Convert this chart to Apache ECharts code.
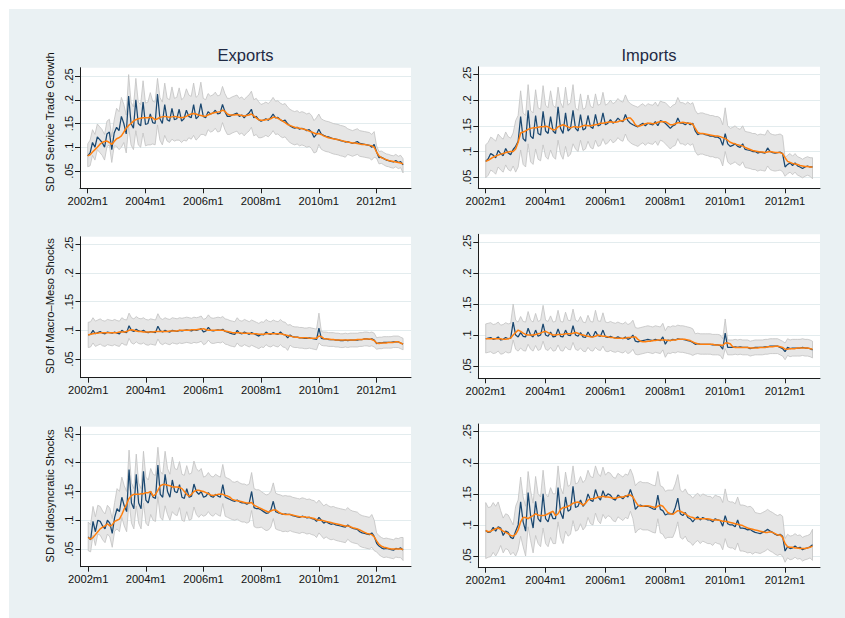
<!DOCTYPE html>
<html>
<head>
<meta charset="utf-8">
<title>SD of service trade growth, macro-meso and idiosyncratic shocks</title>
<script src="https://cdn.jsdelivr.net/npm/echarts@6.0.0/dist/echarts.min.js"></script>
<style>
  html, body { margin: 0; padding: 0; background: #ffffff; }
  #chart { width: 845px; height: 618px; }
</style>
</head>
<body>
<div id="chart"></div>
<script>
// Monthly observations 2002m1 .. 2012m12; x value = months since 2002m1.
const xTicks = [0, 24, 48, 72, 96, 120];
const xTickLabels = ['2002m1', '2004m1', '2006m1', '2008m1', '2010m1', '2012m1'];
const yTicks = [0.05, 0.10, 0.15, 0.20, 0.25];
const yTickLabels = ['.05', '.1', '.15', '.2', '.25'];
const columnTitles = ['Exports', 'Imports'];
const rowTitles = ['SD of Service Trade Growth', 'SD of Macro\u2013Meso Shocks', 'SD of Idiosyncratic Shocks'];

// ---- Exports: SD of service trade growth ----
const exportsTrade = [
  .082,.088,.110,.100,.122,.116,.110,.100,.128,.132,.095,.130,
  .142,.135,.165,.150,.128,.208,.150,.140,.200,.150,.145,.195,
  .148,.150,.170,.152,.150,.212,.160,.150,.190,.158,.155,.182,
  .158,.160,.180,.155,.160,.178,.165,.162,.190,.160,.165,.192,
  .165,.162,.175,.170,.172,.178,.170,.172,.190,.175,.165,.165,
  .168,.170,.172,.165,.168,.162,.168,.172,.180,.162,.165,.158,
  .155,.157,.160,.157,.162,.170,.162,.163,.158,.155,.157,.150,
  .145,.142,.140,.142,.138,.140,.138,.135,.137,.132,.121,.127,
  .138,.128,.125,.123,.122,.120,.118,.117,.116,.114,.113,.111,
  .112,.110,.108,.110,.112,.108,.107,.106,.105,.104,.100,.106,
  .090,.078,.079,.076,.073,.072,.070,.069,.072,.068,.070,.063];
const exportsTradeTrend = [
  .082,.084,.090,.095,.100,.106,.110,.112,.113,.110,.106,.112,
  .118,.120,.124,.132,.140,.146,.150,.155,.158,.160,.161,.162,
  .162,.162,.163,.162,.158,.160,.163,.164,.165,.164,.163,.164,
  .165,.164,.163,.162,.163,.165,.168,.170,.171,.170,.168,.167,
  .166,.165,.168,.170,.172,.173,.174,.175,.178,.176,.170,.168,
  .168,.168,.169,.168,.167,.166,.167,.168,.170,.166,.162,.158,
  .157,.157,.158,.159,.160,.163,.163,.161,.158,.155,.152,.148,
  .146,.144,.142,.141,.140,.139,.138,.136,.134,.132,.130,.128,
  .129,.127,.124,.122,.120,.119,.118,.117,.116,.115,.113,.112,
  .111,.110,.109,.109,.108,.107,.106,.106,.105,.104,.103,.100,
  .090,.082,.078,.076,.074,.072,.071,.070,.069,.068,.067,.065];
const exportsTradeHi = [
  .107,.115,.137,.127,.149,.143,.137,.127,.155,.159,.122,.157,
  .182,.175,.205,.190,.168,.253,.195,.185,.245,.195,.190,.240,
  .193,.195,.215,.197,.195,.245,.205,.195,.235,.203,.200,.227,
  .203,.205,.225,.200,.205,.223,.210,.207,.235,.205,.210,.237,
  .203,.200,.213,.208,.210,.216,.208,.210,.228,.213,.203,.203,
  .206,.208,.210,.203,.206,.200,.206,.210,.218,.200,.203,.196,
  .190,.192,.195,.192,.197,.205,.197,.198,.193,.190,.192,.185,
  .180,.177,.175,.177,.173,.175,.173,.170,.172,.167,.156,.162,
  .170,.160,.157,.155,.154,.152,.150,.149,.148,.146,.145,.143,
  .139,.137,.135,.137,.139,.135,.134,.133,.132,.131,.127,.133,
  .103,.091,.092,.089,.086,.085,.083,.082,.085,.081,.083,.076];
const exportsTradeLo = [
  .059,.061,.083,.073,.095,.089,.083,.073,.101,.105,.068,.103,
  .102,.095,.100,.110,.088,.143,.105,.095,.135,.105,.100,.130,
  .103,.105,.105,.107,.105,.147,.115,.105,.125,.113,.110,.117,
  .113,.115,.115,.110,.115,.113,.120,.117,.125,.115,.120,.127,
  .127,.124,.137,.132,.134,.140,.132,.134,.152,.137,.127,.127,
  .130,.132,.134,.127,.130,.124,.130,.134,.142,.124,.127,.120,
  .120,.122,.125,.122,.127,.135,.127,.128,.123,.120,.122,.115,
  .110,.107,.105,.107,.103,.105,.103,.100,.102,.097,.088,.090,
  .106,.096,.093,.091,.090,.088,.086,.085,.084,.082,.081,.079,
  .085,.083,.081,.083,.085,.081,.080,.079,.078,.077,.073,.079,
  .077,.065,.066,.063,.060,.059,.057,.056,.059,.055,.057,.046];

// ---- Imports: SD of service trade growth ----
const importsTrade = [
  .081,.086,.096,.093,.088,.102,.096,.092,.106,.097,.094,.104,
  .110,.120,.168,.125,.120,.180,.130,.125,.170,.135,.132,.178,
  .140,.135,.168,.140,.135,.187,.145,.135,.175,.140,.145,.180,
  .145,.140,.172,.142,.145,.170,.148,.145,.172,.150,.152,.175,
  .152,.155,.162,.155,.158,.165,.160,.158,.172,.160,.155,.152,
  .150,.148,.152,.155,.150,.155,.153,.152,.158,.150,.160,.158,
  .155,.150,.145,.150,.152,.165,.155,.155,.152,.156,.152,.155,
  .140,.133,.135,.135,.133,.132,.130,.130,.128,.128,.125,.112,
  .135,.115,.110,.112,.115,.110,.108,.115,.104,.103,.102,.100,
  .100,.097,.099,.098,.097,.107,.100,.098,.097,.098,.099,.096,
  .070,.075,.078,.073,.078,.072,.070,.067,.070,.072,.070,.070];
const importsTradeTrend = [
  .081,.083,.086,.089,.091,.093,.095,.096,.098,.099,.100,.100,
  .105,.118,.136,.138,.140,.143,.145,.146,.146,.147,.148,.148,
  .149,.148,.145,.142,.143,.148,.150,.152,.150,.148,.146,.148,
  .148,.147,.148,.150,.151,.150,.150,.151,.152,.153,.155,.155,
  .156,.157,.158,.157,.157,.158,.160,.160,.163,.165,.165,.160,
  .152,.149,.150,.152,.154,.155,.155,.154,.155,.157,.158,.158,
  .158,.155,.152,.152,.154,.156,.156,.157,.156,.155,.155,.153,
  .145,.137,.135,.135,.134,.133,.132,.131,.130,.130,.129,.127,
  .125,.122,.118,.116,.115,.113,.112,.111,.108,.106,.104,.102,
  .101,.100,.099,.099,.098,.099,.100,.099,.098,.098,.098,.096,
  .088,.081,.079,.077,.076,.075,.073,.072,.071,.071,.070,.070];
const importsTradeHi = [
  .113,.118,.128,.125,.120,.134,.128,.124,.138,.129,.126,.136,
  .160,.170,.218,.175,.170,.230,.180,.175,.220,.185,.182,.228,
  .190,.185,.218,.190,.185,.225,.195,.185,.225,.190,.195,.230,
  .185,.180,.212,.182,.185,.210,.188,.185,.212,.190,.192,.215,
  .190,.193,.200,.193,.196,.203,.198,.196,.210,.198,.193,.190,
  .188,.186,.190,.193,.188,.193,.191,.190,.196,.188,.198,.196,
  .195,.190,.185,.190,.192,.205,.195,.195,.192,.196,.192,.195,
  .180,.173,.175,.175,.173,.172,.170,.170,.168,.168,.165,.152,
  .185,.150,.145,.147,.150,.145,.143,.150,.139,.138,.137,.135,
  .135,.132,.134,.133,.132,.142,.135,.133,.132,.133,.134,.131,
  .088,.093,.096,.091,.096,.090,.088,.085,.088,.090,.088,.088];
const importsTradeLo = [
  .049,.054,.064,.061,.056,.070,.064,.060,.074,.065,.062,.072,
  .060,.070,.103,.075,.070,.115,.080,.075,.105,.085,.082,.113,
  .090,.085,.103,.090,.085,.122,.095,.085,.110,.090,.095,.115,
  .105,.100,.122,.102,.105,.120,.108,.105,.122,.110,.112,.125,
  .114,.117,.124,.117,.120,.127,.122,.120,.134,.122,.117,.114,
  .112,.110,.114,.117,.112,.117,.115,.114,.120,.112,.122,.120,
  .115,.110,.105,.110,.112,.125,.115,.115,.112,.116,.112,.115,
  .100,.093,.095,.095,.093,.092,.090,.090,.088,.088,.085,.072,
  .100,.080,.075,.077,.080,.075,.073,.080,.069,.068,.067,.065,
  .065,.062,.064,.063,.062,.072,.065,.063,.062,.063,.064,.061,
  .052,.057,.060,.055,.060,.054,.052,.049,.052,.054,.052,.047];

// ---- Exports: SD of macro-meso shocks ----
const exportsMacro = [
  .092,.093,.100,.094,.096,.098,.095,.094,.097,.096,.095,.097,
  .095,.094,.100,.097,.096,.108,.100,.098,.102,.099,.098,.100,
  .097,.096,.098,.097,.096,.107,.099,.097,.100,.098,.097,.100,
  .099,.098,.100,.099,.100,.101,.100,.099,.101,.100,.101,.103,
  .097,.099,.105,.100,.099,.100,.101,.100,.102,.098,.097,.095,
  .094,.093,.100,.095,.094,.097,.095,.093,.096,.094,.092,.090,
  .093,.092,.097,.094,.093,.096,.094,.093,.097,.093,.092,.087,
  .092,.089,.088,.088,.087,.087,.086,.086,.087,.086,.085,.084,
  .104,.086,.085,.085,.084,.084,.084,.083,.083,.082,.082,.083,
  .082,.083,.083,.083,.083,.084,.084,.085,.085,.084,.085,.083,
  .077,.078,.078,.079,.079,.079,.079,.080,.080,.080,.078,.076];
const exportsMacroTrend = [
  .092,.093,.094,.095,.095,.096,.096,.096,.096,.096,.096,.096,
  .096,.097,.097,.097,.098,.100,.101,.100,.099,.098,.098,.097,
  .097,.097,.097,.097,.098,.098,.098,.098,.098,.098,.099,.099,
  .099,.099,.100,.100,.100,.100,.100,.101,.101,.101,.102,.102,
  .103,.101,.100,.100,.100,.100,.100,.100,.100,.099,.098,.097,
  .096,.096,.096,.096,.095,.095,.095,.095,.094,.094,.094,.093,
  .093,.093,.094,.094,.094,.094,.094,.094,.094,.093,.092,.091,
  .090,.089,.088,.088,.087,.087,.087,.087,.086,.086,.086,.086,
  .090,.089,.086,.085,.085,.084,.084,.083,.083,.083,.083,.083,
  .083,.083,.083,.083,.084,.084,.084,.085,.085,.085,.084,.082,
  .078,.077,.078,.078,.078,.079,.079,.079,.080,.080,.078,.076];
const exportsMacroHi = [
  .114,.115,.122,.116,.118,.120,.117,.116,.119,.118,.117,.119,
  .117,.116,.122,.119,.118,.130,.122,.120,.124,.121,.120,.122,
  .119,.118,.120,.119,.118,.129,.121,.119,.122,.120,.119,.122,
  .121,.120,.122,.121,.122,.123,.122,.121,.123,.122,.123,.125,
  .119,.121,.127,.122,.121,.122,.123,.122,.124,.120,.119,.117,
  .116,.115,.122,.117,.116,.119,.117,.115,.118,.116,.114,.112,
  .115,.114,.119,.116,.115,.118,.116,.115,.119,.115,.114,.109,
  .110,.107,.106,.106,.105,.105,.104,.104,.105,.104,.103,.102,
  .130,.098,.097,.097,.096,.096,.096,.095,.095,.094,.094,.095,
  .094,.095,.095,.095,.095,.096,.096,.097,.097,.096,.097,.095,
  .087,.088,.088,.089,.089,.089,.089,.090,.090,.090,.088,.086];
const exportsMacroLo = [
  .070,.071,.078,.072,.074,.076,.073,.072,.075,.074,.073,.075,
  .073,.072,.078,.075,.074,.086,.078,.076,.080,.077,.076,.078,
  .075,.074,.076,.075,.074,.085,.077,.075,.078,.076,.075,.078,
  .077,.076,.078,.077,.078,.079,.078,.077,.079,.078,.079,.081,
  .075,.077,.083,.078,.077,.078,.079,.078,.080,.076,.075,.073,
  .072,.071,.078,.073,.072,.075,.073,.071,.074,.072,.070,.068,
  .071,.070,.075,.072,.071,.074,.072,.071,.075,.071,.070,.065,
  .074,.071,.070,.070,.069,.069,.068,.068,.069,.068,.067,.066,
  .078,.074,.073,.073,.072,.072,.072,.071,.071,.070,.070,.071,
  .070,.071,.071,.071,.071,.072,.072,.073,.073,.072,.073,.071,
  .067,.068,.068,.069,.069,.069,.069,.070,.070,.070,.068,.066];

// ---- Imports: SD of macro-meso shocks ----
const importsMacro = [
  .094,.095,.096,.093,.094,.097,.092,.093,.096,.094,.095,.121,
  .100,.097,.104,.098,.097,.111,.100,.097,.108,.098,.100,.118,
  .100,.098,.105,.097,.098,.110,.098,.097,.108,.100,.099,.115,
  .100,.098,.104,.097,.096,.105,.098,.097,.106,.099,.098,.108,
  .097,.096,.098,.096,.095,.097,.095,.094,.097,.093,.095,.100,
  .090,.089,.090,.091,.092,.093,.092,.091,.093,.092,.091,.097,
  .085,.092,.091,.093,.092,.094,.093,.093,.092,.091,.090,.088,
  .085,.086,.085,.085,.085,.085,.085,.084,.084,.084,.083,.077,
  .103,.080,.080,.080,.081,.080,.081,.080,.080,.080,.078,.079,
  .080,.080,.080,.080,.081,.081,.082,.082,.082,.082,.080,.078,
  .073,.080,.078,.079,.079,.079,.079,.080,.079,.079,.078,.076];
const importsMacroTrend = [
  .094,.094,.094,.094,.094,.094,.094,.093,.093,.094,.095,.100,
  .104,.108,.106,.103,.101,.100,.100,.100,.101,.102,.103,.105,
  .106,.104,.102,.100,.100,.101,.101,.101,.102,.102,.102,.103,
  .104,.103,.101,.100,.099,.098,.097,.097,.098,.100,.099,.098,
  .098,.097,.096,.096,.095,.095,.095,.095,.095,.096,.096,.097,
  .097,.093,.090,.089,.089,.090,.090,.091,.091,.092,.092,.092,
  .092,.091,.091,.092,.092,.093,.093,.093,.093,.092,.091,.089,
  .087,.086,.085,.085,.085,.085,.085,.085,.084,.084,.084,.083,
  .087,.087,.086,.081,.080,.080,.080,.080,.080,.080,.079,.079,
  .079,.079,.080,.080,.080,.081,.081,.081,.082,.082,.081,.080,
  .077,.077,.078,.078,.078,.079,.079,.079,.079,.079,.078,.077];
const importsMacroHi = [
  .118,.119,.120,.117,.118,.121,.116,.117,.120,.118,.119,.150,
  .124,.121,.130,.122,.121,.138,.124,.121,.135,.122,.124,.148,
  .124,.122,.131,.121,.122,.140,.122,.121,.137,.124,.123,.142,
  .124,.122,.130,.121,.120,.132,.122,.121,.140,.123,.122,.136,
  .121,.120,.122,.120,.119,.121,.119,.118,.121,.117,.119,.124,
  .112,.111,.112,.113,.114,.115,.114,.113,.115,.114,.113,.119,
  .107,.114,.113,.115,.114,.116,.115,.115,.114,.113,.112,.110,
  .102,.103,.102,.102,.102,.102,.102,.101,.101,.101,.100,.094,
  .126,.092,.092,.092,.093,.092,.093,.092,.092,.092,.090,.091,
  .092,.092,.092,.092,.093,.093,.094,.094,.094,.094,.092,.090,
  .087,.094,.092,.093,.093,.093,.093,.094,.093,.093,.092,.090];
const importsMacroLo = [
  .071,.072,.073,.070,.071,.074,.069,.070,.073,.071,.072,.092,
  .077,.074,.079,.075,.074,.085,.077,.074,.083,.075,.077,.090,
  .077,.075,.080,.074,.075,.084,.075,.074,.081,.077,.076,.088,
  .077,.075,.079,.074,.073,.080,.075,.074,.080,.076,.075,.082,
  .074,.073,.075,.073,.072,.074,.072,.071,.074,.070,.072,.077,
  .069,.068,.069,.070,.071,.072,.071,.070,.072,.071,.070,.076,
  .064,.071,.070,.072,.071,.073,.072,.072,.071,.070,.069,.067,
  .069,.070,.069,.069,.069,.069,.069,.068,.068,.068,.067,.061,
  .078,.068,.068,.068,.069,.068,.069,.068,.068,.068,.066,.067,
  .068,.068,.068,.068,.069,.069,.070,.070,.070,.070,.068,.066,
  .060,.067,.065,.066,.066,.066,.066,.067,.066,.066,.065,.063];

// ---- Exports: SD of idiosyncratic shocks ----
const exportsIdio = [
  .071,.066,.098,.080,.100,.098,.090,.085,.100,.095,.077,.105,
  .120,.115,.140,.125,.115,.188,.130,.120,.180,.130,.120,.185,
  .135,.130,.150,.140,.138,.196,.145,.140,.180,.150,.140,.170,
  .150,.148,.162,.140,.138,.155,.140,.142,.163,.150,.145,.150,
  .140,.142,.148,.142,.140,.145,.142,.140,.162,.140,.138,.136,
  .134,.133,.135,.132,.130,.130,.128,.130,.150,.122,.120,.120,
  .118,.115,.112,.113,.118,.133,.115,.113,.112,.110,.111,.110,
  .110,.108,.107,.106,.105,.107,.106,.104,.105,.103,.102,.098,
  .105,.100,.095,.098,.095,.093,.094,.092,.091,.090,.089,.088,
  .092,.088,.086,.085,.084,.080,.078,.077,.076,.075,.078,.072,
  .060,.055,.052,.050,.051,.050,.049,.048,.051,.050,.052,.048];
const exportsIdioTrend = [
  .070,.067,.070,.075,.080,.085,.088,.090,.094,.090,.092,.098,
  .100,.102,.110,.120,.128,.138,.143,.145,.145,.145,.146,.146,
  .148,.148,.150,.142,.145,.152,.160,.162,.162,.161,.160,.158,
  .158,.158,.157,.155,.150,.145,.142,.145,.150,.152,.152,.151,
  .150,.148,.146,.144,.143,.144,.145,.145,.145,.143,.142,.140,
  .136,.135,.134,.133,.132,.131,.130,.130,.131,.126,.124,.122,
  .120,.118,.116,.114,.116,.118,.118,.115,.112,.111,.110,.110,
  .110,.109,.108,.107,.106,.106,.106,.105,.105,.104,.103,.101,
  .100,.100,.099,.098,.097,.096,.095,.094,.093,.092,.091,.090,
  .090,.089,.087,.086,.085,.083,.081,.079,.077,.076,.075,.071,
  .064,.058,.055,.053,.052,.051,.050,.050,.050,.050,.050,.049];
const exportsIdioHi = [
  .097,.092,.124,.106,.126,.124,.116,.111,.126,.121,.103,.131,
  .155,.150,.175,.160,.150,.222,.165,.155,.215,.165,.155,.220,
  .175,.170,.190,.180,.178,.227,.185,.180,.220,.190,.180,.210,
  .190,.188,.202,.180,.178,.195,.180,.182,.203,.190,.185,.190,
  .175,.177,.183,.177,.175,.180,.177,.175,.197,.175,.173,.171,
  .167,.166,.168,.165,.163,.163,.161,.163,.183,.155,.153,.153,
  .150,.147,.144,.145,.150,.165,.147,.145,.144,.142,.143,.142,
  .142,.140,.139,.138,.137,.139,.138,.136,.137,.135,.134,.130,
  .135,.130,.125,.128,.125,.123,.124,.122,.121,.120,.119,.118,
  .122,.118,.116,.115,.114,.110,.108,.107,.106,.105,.110,.100,
  .078,.073,.070,.068,.069,.068,.067,.066,.069,.068,.070,.070];
const exportsIdioLo = [
  .047,.045,.074,.056,.076,.074,.066,.061,.076,.071,.053,.081,
  .085,.080,.105,.090,.080,.133,.095,.085,.125,.095,.085,.130,
  .095,.090,.110,.100,.098,.141,.105,.100,.125,.110,.100,.115,
  .110,.108,.122,.100,.098,.115,.100,.102,.123,.110,.105,.110,
  .107,.109,.115,.109,.107,.112,.109,.107,.129,.107,.105,.103,
  .101,.100,.102,.099,.097,.097,.095,.097,.117,.089,.087,.087,
  .088,.085,.082,.083,.088,.103,.085,.083,.082,.080,.081,.080,
  .082,.080,.079,.078,.077,.079,.078,.076,.077,.075,.074,.070,
  .078,.073,.068,.071,.068,.066,.067,.065,.064,.063,.062,.061,
  .067,.063,.061,.060,.059,.055,.053,.052,.051,.050,.053,.047,
  .045,.040,.037,.035,.036,.035,.034,.033,.036,.035,.035,.030];

// ---- Imports: SD of idiosyncratic shocks ----
const importsIdio = [
  .091,.088,.089,.096,.090,.097,.095,.083,.090,.088,.080,.078,
  .090,.100,.137,.105,.090,.152,.115,.095,.138,.110,.105,.150,
  .110,.105,.120,.110,.110,.160,.120,.110,.145,.122,.125,.162,
  .128,.130,.140,.130,.135,.150,.140,.138,.157,.145,.140,.155,
  .145,.150,.148,.142,.140,.148,.145,.142,.147,.145,.157,.145,
  .125,.130,.132,.130,.130,.130,.128,.126,.125,.148,.125,.123,
  .116,.118,.118,.118,.128,.143,.118,.115,.120,.112,.110,.105,
  .110,.113,.108,.112,.110,.108,.108,.105,.110,.108,.107,.098,
  .115,.102,.100,.100,.097,.108,.095,.095,.094,.092,.093,.090,
  .088,.087,.086,.088,.090,.093,.090,.088,.085,.083,.085,.082,
  .058,.065,.062,.063,.066,.063,.064,.060,.062,.063,.065,.068];
const importsIdioTrend = [
  .091,.089,.090,.092,.094,.095,.093,.090,.088,.086,.083,.082,
  .085,.092,.105,.112,.112,.110,.113,.115,.118,.116,.115,.115,
  .116,.118,.120,.122,.115,.118,.125,.128,.128,.130,.132,.135,
  .136,.137,.135,.132,.135,.140,.142,.142,.143,.145,.145,.146,
  .145,.145,.144,.143,.143,.144,.145,.145,.146,.148,.148,.145,
  .138,.132,.130,.130,.131,.131,.130,.129,.128,.130,.132,.130,
  .125,.120,.118,.117,.120,.123,.122,.120,.118,.115,.113,.112,
  .110,.110,.110,.110,.110,.110,.109,.108,.108,.108,.107,.106,
  .106,.105,.104,.103,.102,.101,.100,.099,.097,.095,.094,.093,
  .092,.091,.090,.089,.088,.088,.089,.088,.086,.084,.084,.080,
  .070,.065,.064,.064,.063,.063,.062,.062,.062,.063,.064,.066];
const importsIdioHi = [
  .136,.128,.129,.136,.130,.137,.123,.111,.118,.116,.108,.100,
  .130,.140,.177,.145,.130,.186,.155,.135,.178,.150,.145,.188,
  .150,.145,.160,.150,.150,.195,.160,.150,.185,.162,.165,.195,
  .166,.168,.178,.168,.173,.188,.178,.176,.195,.183,.178,.193,
  .180,.185,.183,.177,.175,.183,.180,.177,.182,.180,.190,.180,
  .163,.168,.170,.168,.168,.168,.166,.164,.163,.186,.163,.161,
  .154,.156,.156,.156,.166,.181,.156,.153,.158,.150,.148,.143,
  .148,.151,.146,.150,.148,.146,.146,.143,.148,.146,.145,.136,
  .158,.139,.137,.137,.134,.145,.132,.132,.131,.129,.130,.127,
  .120,.119,.118,.120,.122,.125,.122,.120,.117,.115,.117,.114,
  .078,.085,.082,.083,.086,.083,.084,.080,.082,.083,.085,.093];
const importsIdioLo = [
  .046,.048,.049,.056,.050,.057,.067,.055,.062,.060,.052,.056,
  .050,.060,.082,.065,.050,.097,.075,.055,.083,.070,.065,.095,
  .070,.065,.080,.070,.070,.105,.080,.070,.090,.082,.085,.107,
  .090,.092,.102,.092,.097,.112,.102,.100,.119,.107,.102,.117,
  .110,.115,.113,.107,.105,.113,.110,.107,.112,.110,.122,.110,
  .087,.092,.094,.092,.092,.092,.090,.088,.087,.110,.087,.085,
  .078,.080,.080,.080,.090,.105,.080,.077,.082,.074,.072,.067,
  .072,.075,.070,.074,.072,.070,.070,.067,.072,.070,.069,.060,
  .078,.065,.063,.063,.060,.071,.058,.058,.057,.055,.056,.053,
  .056,.055,.054,.056,.058,.061,.058,.056,.053,.051,.053,.050,
  .040,.047,.044,.045,.048,.045,.046,.042,.044,.045,.047,.043];

// Panels in reading order: row by row, exports left, imports right.
const panels = [
  { est: exportsTrade, trend: exportsTradeTrend, lo: exportsTradeLo, hi: exportsTradeHi },
  { est: importsTrade, trend: importsTradeTrend, lo: importsTradeLo, hi: importsTradeHi },
  { est: exportsMacro, trend: exportsMacroTrend, lo: exportsMacroLo, hi: exportsMacroHi },
  { est: importsMacro, trend: importsMacroTrend, lo: importsMacroLo, hi: importsMacroHi },
  { est: exportsIdio, trend: exportsIdioTrend, lo: exportsIdioLo, hi: exportsIdioHi },
  { est: importsIdio, trend: importsIdioTrend, lo: importsIdioLo, hi: importsIdioHi }
];

// Plot-region boxes (px) and axis ranges for each panel.
const layout = [
  { left: 80,    top: 67.7,  width: 331,   height: 120.6, xMin: -3.2,  xMax: 134.3, yMin: 0.0136, yMax: 0.2675 },
  { left: 478.3, top: 66.7,  width: 341.7, height: 121.6, xMin: -2.97, xMax: 134.0, yMin: 0.0286, yMax: 0.2648 },
  { left: 80.5,  top: 236.7, width: 330.5, height: 141,   xMin: -3.2,  xMax: 134.3, yMin: 0.0174, yMax: 0.2633 },
  { left: 478.3, top: 234.3, width: 341.7, height: 144,   xMin: -2.97, xMax: 134.0, yMin: 0.0300, yMax: 0.2630 },
  { left: 80.5,  top: 426.7, width: 330.5, height: 140,   xMin: -3.2,  xMax: 134.3, yMin: 0.0192, yMax: 0.2627 },
  { left: 478.3, top: 424,   width: 341.7, height: 143.7, xMin: -2.97, xMax: 134.0, yMin: 0.0312, yMax: 0.2624 }
];

const FONT = '"Liberation Sans", Arial, Helvetica, sans-serif';
const AXIS_COLOR = '#1c1c1c';
const TEXT_COLOR = '#111111';
const BLUE = '#1a476f';
const ORANGE = '#ff7f0e';
const BAND_FILL = '#e6e6e6';
const BAND_EDGE = '#c2c2c2';
const GRID_COLOR = '#e3ecee';

const pairs = arr => arr.map((v, i) => [i, v]);

const grids = [], xAxes = [], yAxes = [], series = [];

panels.forEach((p, k) => {
  const L = layout[k];
  grids.push({
    left: L.left, top: L.top, width: L.width, height: L.height,
    show: true, backgroundColor: '#ffffff', borderWidth: 0
  });
  xAxes.push({
    type: 'value', gridIndex: k, min: L.xMin, max: L.xMax,
    axisLine: { show: true, onZero: false, lineStyle: { color: AXIS_COLOR, width: 1 } },
    axisTick: { show: true, length: 5, customValues: xTicks, lineStyle: { color: AXIS_COLOR, width: 1 } },
    axisLabel: {
      customValues: xTicks, margin: 7,
      formatter: v => xTickLabels[xTicks.indexOf(v)],
      color: TEXT_COLOR, fontFamily: FONT, fontSize: 11.2
    },
    splitLine: { show: false }
  });
  yAxes.push({
    type: 'value', gridIndex: k, min: L.yMin, max: L.yMax,
    axisLine: { show: true, onZero: false, lineStyle: { color: AXIS_COLOR, width: 1 } },
    axisTick: { show: true, length: 5, customValues: yTicks, lineStyle: { color: AXIS_COLOR, width: 1 } },
    axisLabel: {
      customValues: yTicks, rotate: 90, margin: 6,
      formatter: v => yTickLabels[yTicks.findIndex(t => Math.abs(t - v) < 1e-9)],
      color: TEXT_COLOR, fontFamily: FONT, fontSize: 11.2
    },
    splitLine: { show: true, lineStyle: { color: GRID_COLOR, width: 1 } }
  });

  // confidence band: polygon through the upper bound, back along the lower bound
  series.push({
    type: 'custom', xAxisIndex: k, yAxisIndex: k, z: 1, silent: true,
    data: [[0, p.lo[0]]],
    renderItem: (params, api) => {
      const pts = p.hi.map((v, i) => api.coord([i, v]));
      for (let i = p.lo.length - 1; i >= 0; i--) pts.push(api.coord([i, p.lo[i]]));
      return {
        type: 'polygon', shape: { points: pts },
        style: { fill: BAND_FILL, stroke: BAND_EDGE, lineWidth: 0.8 }
      };
    }
  });
  series.push({
    type: 'line', xAxisIndex: k, yAxisIndex: k, z: 2, data: pairs(p.est),
    symbol: 'none', lineStyle: { color: BLUE, width: 1.25 }, silent: true
  });
  series.push({
    type: 'line', xAxisIndex: k, yAxisIndex: k, z: 3, data: pairs(p.trend),
    symbol: 'none', lineStyle: { color: ORANGE, width: 1.5 }, silent: true
  });
});

// headings and axis titles
const graphics = [
  { type: 'rect', z: -10, shape: { x: 9, y: 9, width: 836, height: 609 }, style: { fill: '#eaf1f3' } },
  { type: 'text', x: 245.5, y: 55, style: { text: columnTitles[0], fill: '#1f2a44', font: '16.5px ' + FONT, align: 'center', verticalAlign: 'middle' } },
  { type: 'text', x: 649, y: 55, style: { text: columnTitles[1], fill: '#1f2a44', font: '16.5px ' + FONT, align: 'center', verticalAlign: 'middle' } },
  { type: 'text', x: 50, y: 122, rotation: Math.PI / 2, style: { text: rowTitles[0], fill: TEXT_COLOR, font: '11.2px ' + FONT, align: 'center', verticalAlign: 'middle' } },
  { type: 'text', x: 50, y: 306, rotation: Math.PI / 2, style: { text: rowTitles[1], fill: TEXT_COLOR, font: '11.2px ' + FONT, align: 'center', verticalAlign: 'middle' } },
  { type: 'text', x: 50, y: 496, rotation: Math.PI / 2, style: { text: rowTitles[2], fill: TEXT_COLOR, font: '11.2px ' + FONT, align: 'center', verticalAlign: 'middle' } }
];

const chart = echarts.init(document.getElementById('chart'), null, { renderer: 'svg' });
chart.setOption({
  animation: false,
  backgroundColor: '#ffffff',
  graphic: graphics,
  grid: grids,
  xAxis: xAxes,
  yAxis: yAxes,
  series: series
});
</script>
</body>
</html>
